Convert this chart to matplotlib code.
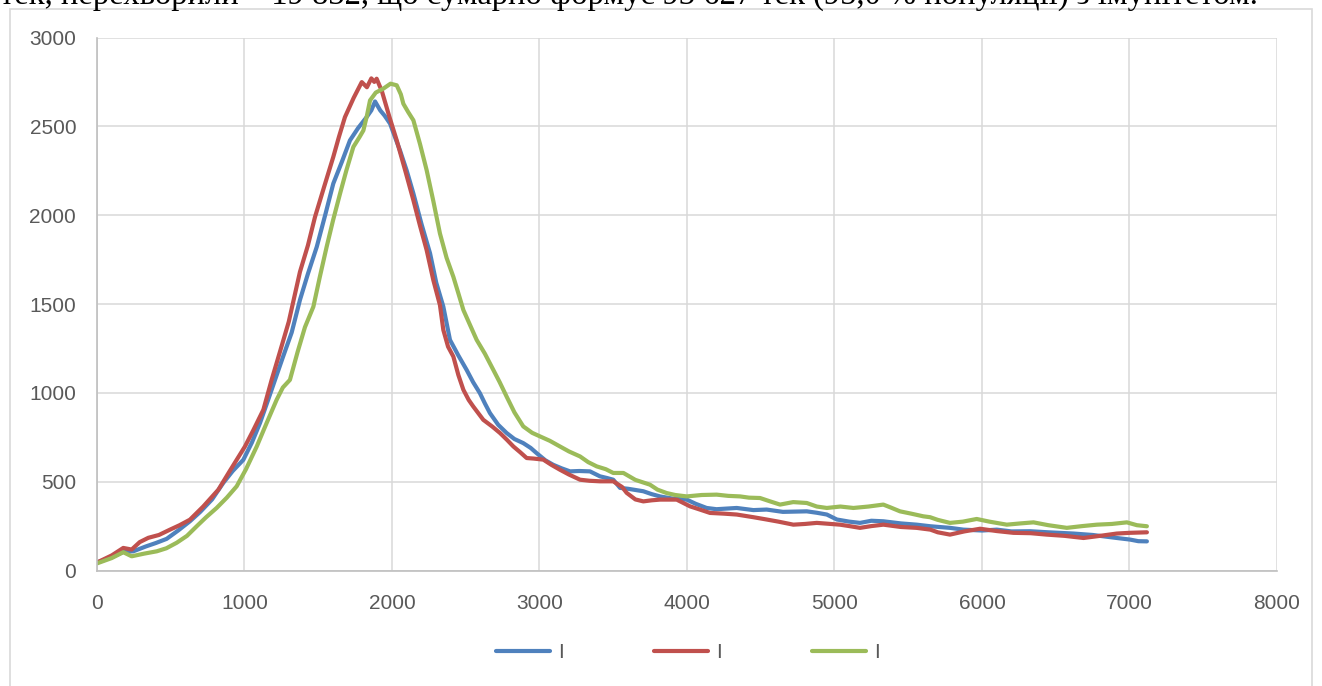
import matplotlib.pyplot as plt
from matplotlib.patches import Rectangle

# values
blue_x = [0, 100, 180, 246, 330, 400, 472, 550, 630, 700, 780, 856, 920, 992, 1050, 1105, 1160, 1207,
          1260, 1320, 1376, 1430, 1490, 1550, 1602, 1660, 1715, 1770, 1828, 1860, 1885, 1920, 1950, 1987,
          2020, 2054, 2100, 2145, 2200, 2258, 2300, 2348, 2393, 2450, 2506, 2550, 2596, 2630, 2664, 2720,
          2777, 2830, 2890, 2940, 2980, 3040, 3093, 3150, 3207, 3270, 3342, 3410, 3460, 3500, 3546, 3600,
          3704, 3760, 3817, 3900, 3998, 4060, 4133, 4200, 4337, 4450, 4540, 4650, 4812, 4880, 4948, 5016,
          5100, 5173, 5250, 5331, 5450, 5557, 5650, 5783, 5874, 6000, 6100, 6200, 6326, 6450, 6620, 6750,
          6914, 7004, 7060, 7118]
blue_y = [45, 75, 105, 108, 135, 155, 178, 225, 277, 330, 400, 493, 560, 623, 720, 830, 960, 1073,
          1200, 1340, 1523, 1670, 1822, 2010, 2178, 2300, 2421, 2490, 2552, 2590, 2640, 2590, 2560, 2515,
          2440, 2365, 2250, 2122, 1950, 1785, 1620, 1485, 1298, 1210, 1129, 1060, 998, 940, 886, 820,
          774, 740, 717, 690, 661, 620, 595, 575, 558, 560, 558, 530, 520, 511, 465, 460,
          446, 430, 417, 405, 399, 375, 352, 345, 352, 340, 343, 330, 333, 325, 315, 287,
          275, 268, 280, 277, 265, 258, 249, 240, 230, 225, 230, 220, 221, 215, 208, 200,
          183, 174, 165, 164]

red_x = [0, 100, 178, 235, 290, 348, 420, 495, 560, 630, 720, 823, 900, 1003, 1060, 1128, 1184, 1240,
         1300, 1376, 1430, 1478, 1540, 1602, 1640, 1681, 1740, 1795, 1830, 1860, 1880, 1896, 1915, 1930,
         1980, 2032, 2090, 2145, 2190, 2235, 2280, 2325, 2348, 2380, 2416, 2450, 2484, 2520, 2551, 2619,
         2680, 2732, 2780, 2823, 2870, 2913, 2960, 3026, 3080, 3139, 3200, 3275, 3340, 3410, 3500, 3560,
         3591, 3650, 3704, 3760, 3817, 3930, 4021, 4080, 4156, 4250, 4337, 4450, 4540, 4620, 4721, 4800,
         4880, 5037, 5100, 5173, 5250, 5331, 5450, 5557, 5650, 5700, 5783, 5880, 5987, 6100, 6213, 6330,
         6439, 6560, 6688, 6800, 6914, 7000, 7118]
red_y = [45, 85, 127, 118, 160, 184, 200, 230, 255, 286, 360, 455, 560, 698, 790, 905, 1073, 1230,
         1400, 1681, 1830, 1990, 2160, 2328, 2440, 2552, 2660, 2749, 2720, 2770, 2750, 2768, 2730, 2702,
         2560, 2421, 2250, 2084, 1940, 1803, 1635, 1494, 1354, 1260, 1204, 1100, 1017, 960, 923, 848,
         810, 774, 735, 698, 665, 633, 630, 624, 595, 567, 540, 511, 505, 502, 502, 470,
         437, 400, 389, 395, 399, 399, 361, 345, 324, 320, 315, 300, 287, 275, 258, 262,
         268, 258, 250, 240, 250, 258, 245, 240, 230, 215, 202, 220, 235, 222, 212, 210,
         202, 195, 183, 195, 208, 212, 215]

green_x = [0, 100, 178, 235, 320, 405, 470, 540, 610, 676, 740, 811, 880, 947, 1010, 1083, 1150, 1218,
           1260, 1308, 1360, 1410, 1467, 1510, 1557, 1600, 1648, 1690, 1738, 1780, 1806, 1830, 1851, 1890,
           1941, 1990, 2032, 2060, 2077, 2110, 2145, 2190, 2235, 2280, 2325, 2370, 2416, 2450, 2484, 2530,
           2574, 2630, 2687, 2730, 2777, 2830, 2890, 2950, 3003, 3070, 3139, 3200, 3275, 3330, 3388, 3450,
           3500, 3569, 3650, 3749, 3800, 3862, 3920, 3998, 4100, 4201, 4280, 4360, 4420, 4495, 4560, 4631,
           4720, 4812, 4880, 4948, 5040, 5128, 5230, 5331, 5380, 5444, 5520, 5602, 5648, 5700, 5783, 5870,
           5964, 6050, 6168, 6260, 6349, 6450, 6575, 6680, 6779, 6880, 6982, 7050, 7118]
green_y = [40, 70, 103, 80, 95, 108, 125, 156, 195, 249, 300, 352, 410, 474, 570, 698, 830, 961,
           1030, 1073, 1230, 1370, 1485, 1650, 1822, 1970, 2122, 2250, 2384, 2440, 2477, 2560, 2646, 2690,
           2712, 2740, 2731, 2680, 2627, 2580, 2534, 2400, 2253, 2080, 1897, 1760, 1653, 1560, 1466, 1380,
           1298, 1220, 1129, 1060, 979, 890, 811, 775, 755, 730, 698, 670, 642, 610, 586, 570,
           549, 549, 510, 483, 455, 436, 425, 417, 425, 427, 420, 417, 410, 408, 390, 371,
           385, 380, 360, 352, 360, 352, 360, 371, 355, 333, 320, 305, 300, 285, 268, 275,
           290, 275, 258, 265, 271, 255, 240, 250, 258, 262, 271, 255, 249]

series_names = ["I", "I", "I"]
colors = ["#4f81bd", "#c0504d", "#9bbb59"]

top_text = "тек, перехворили – 19 832, що сумарно формує 93 627 тек (95,0 % популяції) з імунітетом."

fig = plt.figure(figsize=(13.22, 6.86), dpi=100)
ax = fig.add_axes([97 / 1322, 1 - 570.5 / 686, (1277 - 97) / 1322, (570.5 - 37.5) / 686])

# outer chart frame (bottom is cut off in the reference)
fig.patches.append(Rectangle((10 / 1322, -0.02), (1312 - 10) / 1322, 1.02 - 9 / 686,
                             transform=fig.transFigure, fill=False, edgecolor="#d9d9d9", lw=1.2))

# line of document text above the chart, cut by the top edge as in the reference
fig.text(0.0, 1 - 4 / 686, top_text, family="Liberation Serif", fontsize=23.5,
         va="baseline", ha="left", color="black")

for xs, ys, c, name in zip([blue_x, red_x, green_x], [blue_y, red_y, green_y], colors, series_names):
    ax.plot(xs, ys, color=c, lw=3.0, label=name, solid_capstyle="round", solid_joinstyle="round")

ax.set_xlim(0, 8000)
ax.set_ylim(0, 3000)
ax.set_xticks(range(0, 8001, 1000))
ax.set_yticks(range(0, 3001, 500))
ax.grid(True, color="#d9d9d9", lw=1.1)
ax.set_axisbelow(True)
for s in ["top", "right"]:
    ax.spines[s].set_visible(False)
for s in ["left", "bottom"]:
    ax.spines[s].set_color("#bfbfbf")
    ax.spines[s].set_linewidth(1.2)
ax.tick_params(length=0, labelsize=15, labelcolor="#595959")
ax.tick_params(axis="y", pad=15)
ax.tick_params(axis="x", pad=17)
for lab in ax.get_xticklabels() + ax.get_yticklabels():
    lab.set_family("Liberation Sans")

leg = fig.legend(loc="center", bbox_to_anchor=(688 / 1322, 1 - 653 / 686), ncol=3, frameon=False,
                 handlelength=2.6, handletextpad=0.4, columnspacing=4.3,
                 prop={"family": "Liberation Sans", "size": 15})
for line in leg.get_lines():
    line.set_linewidth(3.0)
for t in leg.get_texts():
    t.set_color("#595959")

fig.savefig("out.png", dpi=100)
